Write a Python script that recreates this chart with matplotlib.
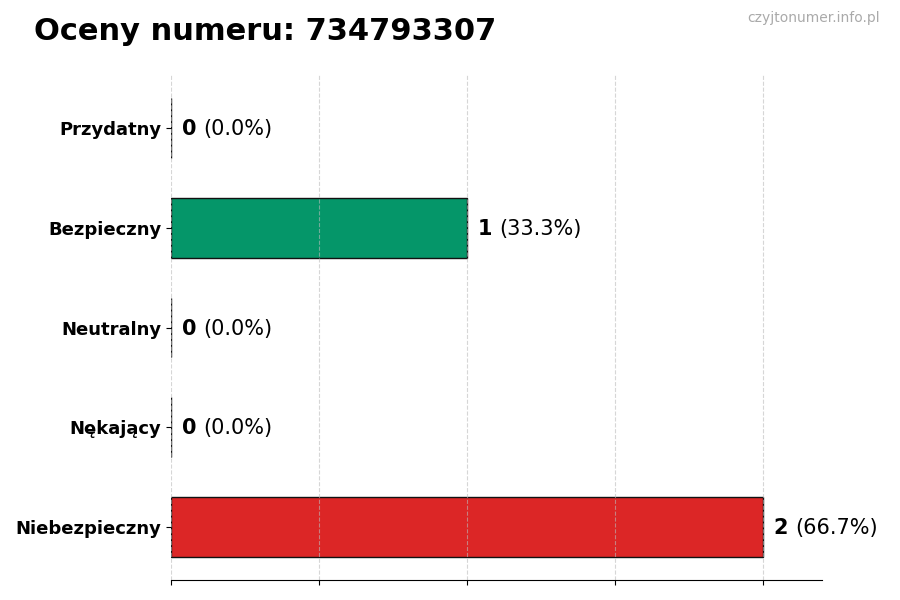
import matplotlib.pyplot as plt

categories = ["Przydatny", "Bezpieczny", "Neutralny", "Nękający", "Niebezpieczny"]
counts = [0, 1, 0, 0, 2]
percents = [0.0, 33.3, 0.0, 0.0, 66.7]
colors = ["#16a34a", "#059669", "#9ca3af", "#f97316", "#dc2626"]
number = "734793307"

fig = plt.figure(figsize=(9, 6), dpi=100)
ax = fig.add_axes([0.19, 0.0333, 0.723, 0.8417])

ypos = list(range(len(categories)))[::-1]
ax.barh(ypos, counts, height=0.6, color=colors, edgecolor="#111111", linewidth=1)

ax.set_xlim(0, 2.2)
ax.set_xticks([0, 0.5, 1, 1.5, 2])
ax.set_xticklabels([])
ax.set_yticks(ypos)
ax.set_yticklabels(categories, fontsize=13, fontweight="bold")
ax.grid(axis="x", linestyle="--", color="#bbbbbb", linewidth=0.8, alpha=0.6)
for s in ["top", "right", "left"]:
    ax.spines[s].set_visible(False)

fig.canvas.draw()
renderer = fig.canvas.get_renderer()
for y, c, p in zip(ypos, counts, percents):
    t = ax.annotate(str(c), (c, y - 0.01), xytext=(8, 0), textcoords="offset points",
                    va="center", ha="left", fontsize=15, fontweight="bold")
    w = t.get_window_extent(renderer).width
    ax.annotate(f"({p:.1f}%)", (c, y - 0.01), xytext=(8 + w * 72 / fig.dpi + 5, 0),
                textcoords="offset points", va="center", ha="left", fontsize=15)

fig.text(0.038, 0.948, f"Oceny numeru: {number}", fontsize=22, fontweight="bold",
         ha="left", va="center")
fig.text(0.978, 0.97, "czyjtonumer.info.pl", fontsize=10, color="#aaaaaa",
         ha="right", va="center")

fig.savefig("out.png", dpi=100)
